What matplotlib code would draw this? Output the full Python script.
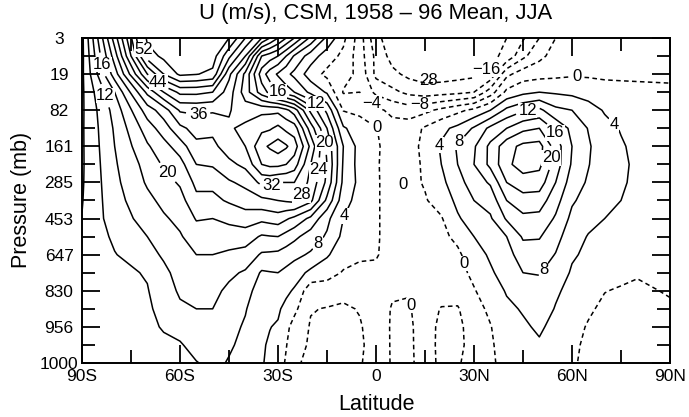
import numpy as np
import matplotlib.pyplot as plt

plt.rcParams['font.family'] = ['Liberation Sans', 'DejaVu Sans']
plt.rcParams['lines.dashed_pattern'] = [3.0, 2.2]

# latitude columns (deg, S negative)
lats = [-90, -80, -70, -65, -60, -55, -50, -45, -40, -35, -32.5, -30, -27.5,
        -25, -20, -15, -10, -5, 0, 5, 10, 15, 20, 25, 30, 35, 40, 45, 50,
        55, 60, 65, 70, 75, 80, 90]
# model levels: labelled at whole steps, values also read at half steps
lev_idx = np.arange(0, 9.01, 0.5)
pres_labels = ['3', '19', '82', '161', '285', '453', '647', '830', '956', '1000']
lat_ticks = [-90, -60, -30, 0, 30, 60, 90]
lat_labels = ['90S', '60S', '30S', '0', '30N', '60N', '90N']

# zonal wind (m/s), one list per latitude, top (3 mb) to bottom (1000 mb)
u_by_lat = [
    [3, 3, 3.2, 3.3, 3.4, 3.5, 3.5, 3.5, 3.6, 3.8, 4.1, 4.3, 4.4, 4.5, 4.5, 4.5, 4.4, 4.3, 4.2],
    [30, 26, 22, 16, 13.5, 12.5, 12, 11.5, 11, 10.5, 10, 8.8, 7.8, 7, 6.3, 5.8, 5.3, 5, 4.8],
    [57, 54, 44, 33, 26, 22, 19.5, 17.5, 16.5, 15, 13.5, 12, 10.5, 8.3, 7.8, 7.4, 7.2, 7, 6.8],
    [58.5, 57, 52, 40, 30, 26, 22.5, 20.5, 18.5, 17, 15.5, 14, 12.6, 11, 10, 9.2, 8.3, 7.3, 6.4],
    [59, 58.8, 56.8, 45, 36.5, 31, 26, 22.5, 20.5, 18.5, 17, 15.6, 14.5, 13.5, 12.6, 11.3, 9.5, 7.6, 6],
    [59.5, 59, 56.2, 45, 36.8, 33.5, 31, 28, 25, 23, 20.3, 18, 16, 14, 13, 12, 11, 9.5, 7.8],
    [58, 58, 55, 44, 36.5, 33, 31, 28.5, 25, 23, 20, 18, 16, 14, 13, 12, 11, 10, 9],
    [56, 49, 41, 38, 36.3, 35.5, 34, 31, 27.5, 24.5, 21, 18, 15.3, 12.8, 11.2, 10.2, 9.3, 8.5, 7.7],
    [48, 40, 31, 30, 34, 37, 36, 33, 29, 26, 22, 18, 14.5, 11.5, 9.5, 8.3, 7.5, 7, 6.5],
    [40, 24, 18, 22, 35, 39, 43, 40, 33, 27, 21, 15.5, 11.5, 7.5, 6, 5, 4.6, 4.4, 4.3],
    [36, 22, 14, 19, 35, 39.5, 44.5, 41, 33, 27.5, 21.5, 15.8, 11.3, 7.8, 6.2, 4.8, 4.1, 3.6, 3.2],
    [32, 20, 11.5, 16, 35, 41, 46, 41, 32, 28, 22, 16, 11, 8, 6.3, 4.6, 3.6, 2.8, 2],
    [28, 16, 9, 14, 33, 39, 44.5, 40, 32, 28.5, 20.5, 14.5, 10, 7, 4.9, 2.8, 1, 0.2, -0.5],
    [24, 11.5, 7, 12, 30, 38, 42, 38, 32, 29, 19, 13, 9, 6, 3.5, 1, -1.5, -2.5, -3],
    [15, 6, 2, 7, 19, 26, 31, 28, 27, 25, 15, 10, 7.5, 3, -2.5, -3.8, -4.3, -4.5, -5.5],
    [7, 2, -1, 3.5, 11, 16, 19, 20, 19, 15, 9, 7.5, 4.5, 1.5, -2, -4.2, -5, -5, -5.5],
    [1, -1, -2.5, -4.3, -0.2, 4.5, 8, 7.5, 7, 5.5, 4, 3, 1.5, -0.3, -3, -4.5, -5, -5, -5],
    [-6, -6, -5, -4, -1, 2, 2.5, 2.5, 3, 2.5, 2, 1.5, 0.5, -0.8, -2.5, -3.8, -4.3, -4.5, -4.2],
    [-15, -13, -13, -9, -3, 0.2, 0.5, 0.3, 0.3, 0.3, 0.3, 0.3, 0.2, -0.5, -1.5, -2, -2.5, -2.7, -3],
    [-18, -17.5, -15, -11, -5, -2.5, -1.5, -1.2, -1, -1, -1, -1, -1, -1, -0.5, 0.3, 0.5, 0.5, 0.5],
    [-19.2, -18.8, -17, -13, -6, -2, -1.5, -1.2, -1, -1, -1, -1, -1, -1, -0.3, 0.5, 1, 1, 1],
    [-19.5, -19, -18, -14, -5, 0.5, 1, 0.5, 0.3, -0.3, -1, -1.2, -1.3, -1.5, -2, -2.5, -2.5, -2.3, -2],
    [-19.8, -19.3, -18, -13.5, -3, 3, 4.5, 4, 3, 1.5, -0.3, -1, -1.5, -1.8, -2.5, -4.2, -4.8, -5, -5],
    [-19.8, -19, -17.5, -13, -1, 5, 8.5, 8, 6.5, 5, 3.5, 1, -0.8, -1.5, -2.5, -4.3, -4.8, -5, -4.5],
    [-19.5, -18, -17, -12, 1, 8.5, 11.5, 12, 10, 8, 6, 4, 2.5, 1, -0.3, -1.5, -2.5, -2.5, -2],
    [-18.5, -17, -15, -6, 4, 13, 17, 17, 12.5, 9.5, 7.5, 6, 4.5, 3.5, 2.2, 0.8, -0.2, -0.5, -0.5],
    [-16, -15, -5, 1, 9, 16, 22.5, 23, 20, 16, 12.5, 8, 6.5, 5.5, 4.3, 3.3, 2.5, 1.7, 1],
    [-12.5, -9, -2, 3, 11.5, 19, 25, 26, 22, 18.5, 15, 12.5, 10, 8, 6, 4.3, 3.5, 3, 2.5],
    [-8, -5, -1.5, 4, 13, 20, 25.5, 25, 22, 18, 14.8, 12.3, 10.2, 8.2, 6.8, 5.6, 4.5, 3.6, 3],
    [-4, -2.5, -1, 3.5, 9, 15, 18, 18, 16, 13.5, 11.5, 9.5, 7.8, 6.5, 4.5, 3.8, 3, 2.3, 1.8],
    [-2.5, -1.5, -0.5, 3, 8, 11, 12, 11.5, 10, 8.5, 7, 5.5, 4.5, 3.5, 3, 2.3, 1.2, 0.8, 0.5],
    [-2.2, -1.5, -0.6, 2.5, 5.5, 7.8, 8.5, 8.2, 7.5, 6.5, 5, 3.8, 3.2, 2.3, 1.5, 0.5, -0.3, -0.8, -1],
    [-2, -1.5, -0.7, 1.5, 3.7, 5, 5.5, 5.5, 5.2, 4.8, 4, 3, 2, 1.2, 0.1, -0.7, -1.3, -1.8, -2],
    [-2, -1.5, -0.7, 1.2, 2.8, 3.8, 4.3, 4.5, 4.3, 4, 3.4, 2.6, 1.7, 0.8, -0.3, -1, -1.6, -1.9, -2],
    [-2, -1.5, -0.7, 1, 2, 2.8, 3.3, 3.5, 3.5, 3.2, 2.8, 2.3, 1.5, 0.3, -0.6, -1.2, -1.8, -2, -2],
    [-2, -1.5, -0.7, 0.7, 1.5, 2, 2, 2, 2, 2, 2, 1.8, 1.5, 1, 0.3, -0.5, -1.2, -1.5, -1.5],
]
u = np.array(u_by_lat).T

clevs = list(range(-24, 61, 4))

# where the contour labels sit: (value, lat, level index)
label_spots = [(52, -71.6, 0.33), (16, -84.5, 0.75), (12, -82.3, 1.58), (44, -66.7, 1.22),
               (36, -54.5, 2.08), (16, -30.3, 1.5), (12, -19.3, 1.91), (20, -15, 2.88),
               (24, -16.5, 3.66), (32, -31.8, 4.13), (28, -21.7, 4.4), (20, -63.1, 3.66),
               (4, -10.1, 4.9), (8, -17.8, 5.68), (-4, -0.9, 1.77), (0, 0.3, 2.49),
               (-8, 13.5, 2.0), (-16, 34, 0.89), (0, 61.5, 1.08), (12, 46.2, 1.91),
               (4, 16.8, 2.88), (8, 24.2, 2.77), (16, 54.8, 2.63), (20, 53.3, 3.32),
               (4, 69.5, 2.69), (0, 27.5, 6.23), (8, 52.3, 6.48), (0, 10.1, 7.42)]

fig = plt.figure(figsize=(6.89, 4.17), dpi=100)
ax = fig.add_axes([82 / 689, 1 - 363 / 417, 588 / 689, 325 / 417])

# one contour set per level so each label can be put on its own line
sets = {}
for c in clevs:
    if np.nanmin(u) <= c <= np.nanmax(u):
        sets[c] = ax.contour(lats, lev_idx, u, levels=[c], colors='k',
                             linewidths=1.1,
                             linestyles='dashed' if c <= 0 else 'solid')

fmt = lambda v: '%d' % v if v >= 0 else '\u2212%d' % -v
for val, la, lv in label_spots:
    ax.clabel(sets[val], manual=[(la, lv)], inline=True,
              inline_spacing=3, fmt=fmt, fontsize=12)
# labels stand upright, as in the original plot
for cs in sets.values():
    for t in cs.labelTexts:
        t.set_rotation(0)
        t.set_bbox(dict(facecolor='white', edgecolor='none', pad=0.3))
ax.text(15.9, 1.19, '28', ha='center', va='center', fontsize=12)
ax.text(8.3, 4.07, '0', ha='center', va='center', fontsize=12)

ax.set_xlim(-90, 90)
ax.set_ylim(9, 0)
ax.set_xticks(lat_ticks)
ax.set_xticklabels(lat_labels)
ax.set_xticks(np.arange(-75, 90, 30), minor=True)
ax.set_yticks(range(10))
ax.set_yticks(np.arange(0.5, 9, 1), minor=True)
ax.tick_params(which='both', direction='in', top=True, right=True,
               width=1.3, labelsize=12.5)
ax.tick_params(which='major', length=13)
ax.tick_params(which='minor', length=9.5)
ax.tick_params(axis='x', pad=4)
ax.tick_params(axis='y', pad=16.5)
ax.set_yticklabels(pres_labels, ha='center')
for s in ax.spines.values():
    s.set_linewidth(1.4)

fig.text(376 / 689, 1 - 13 / 417, 'U (m/s), CSM, 1958 \u2013 96 Mean, JJA',
         ha='center', va='center', fontsize=15.8)
fig.text(22 / 689, 1 - 200 / 417, 'Pressure (mb)', rotation=90,
         ha='center', va='center', fontsize=15.5)
fig.text(376 / 689, 1 - 405 / 417, 'Latitude', ha='center', va='center',
         fontsize=15.5)

fig.savefig('out.png', dpi=100)
